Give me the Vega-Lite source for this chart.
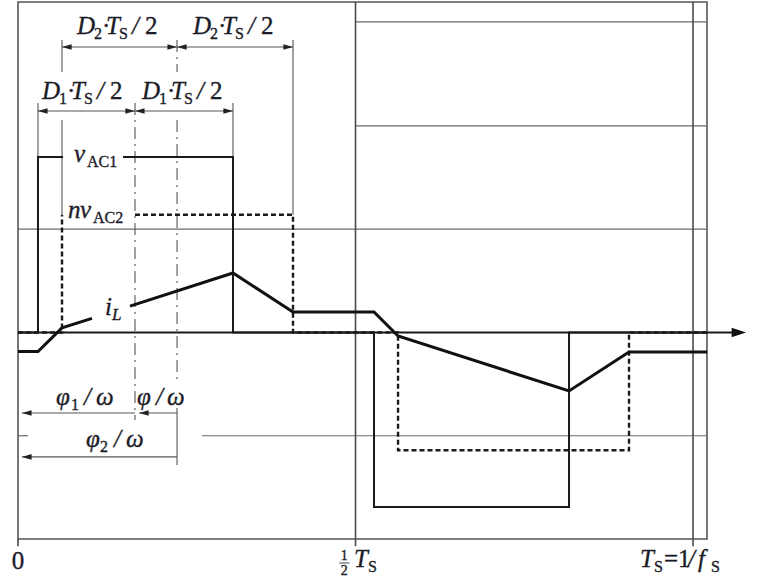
{
  "$schema": "https://vega.github.io/schema/vega-lite/v6.json",
  "autosize": {"type": "none"},
  "padding": {"left": 18, "top": 2, "right": 53, "bottom": 45},
  "width": 689,
  "height": 537,
  "background": "white",
  "config": {
    "view": {"stroke": "#555", "strokeWidth": 1.6},
    "text": {"font": "Liberation Serif", "color": "#1c1c28", "stroke": "#1c1c28", "strokeWidth": 0.35, "baseline": "alphabetic", "align": "left"}
  },
  "datasets": {
    "segs": [
      {"k": "frame", "t": 0.5, "v": -2.07, "t2": 0.5, "v2": 3.2},
      {"k": "frame", "t": 1.0, "v": -2.07, "t2": 1.0, "v2": 3.2},
      {"k": "frame", "t": 0, "v": -2.07, "t2": 0, "v2": -2},
      {"k": "grid", "t": 0.5, "v": 3.007, "t2": 1.0207, "v2": 3.007},
      {"k": "grid", "t": 0.5, "v": 2.0, "t2": 1.0207, "v2": 2.0},
      {"k": "grid", "t": 0, "v": 1.0, "t2": 1.0207, "v2": 1.0},
      {"k": "grid", "t": 0.2726, "v": -1.0, "t2": 1.0207, "v2": -1.0},
      {"k": "grid", "t": 0, "v": -1.0, "t2": 0.0148, "v2": -1.0},
      {"k": "ext", "t": 0.0296, "v": 2.222, "t2": 0.0296, "v2": 1.7},
      {"k": "ext", "t": 0.0652, "v": 2.832, "t2": 0.0652, "v2": 2.522},
      {"k": "ext", "t": 0.0652, "v": 2.058, "t2": 0.0652, "v2": 1.14},
      {"k": "ext", "t": 0.3185, "v": 2.222, "t2": 0.3185, "v2": 1.7},
      {"k": "ext", "t": 0.4074, "v": 2.832, "t2": 0.4074, "v2": 1.14},
      {"k": "ext", "t": 0.2356, "v": -0.731, "t2": 0.2356, "v2": -1.283},
      {"k": "dd", "t": 0.1733, "v": 2.222, "t2": 0.1733, "v2": -0.847},
      {"k": "dd", "t": 0.2356, "v": 2.832, "t2": 0.2356, "v2": 2.522},
      {"k": "dd", "t": 0.2356, "v": 2.058, "t2": 0.2356, "v2": -0.46},
      {"k": "dim", "t": 0.0652, "v": 2.764, "t2": 0.4074, "v2": 2.764},
      {"k": "dim", "t": 0.0296, "v": 2.145, "t2": 0.3185, "v2": 2.145},
      {"k": "dim", "t": 0.0059, "v": -0.78, "t2": 0.1733, "v2": -0.78},
      {"k": "dim", "t": 0.1793, "v": -0.78, "t2": 0.2356, "v2": -0.78},
      {"k": "dim", "t": 0.0059, "v": -1.205, "t2": 0.2356, "v2": -1.205},
      {"k": "bar", "t": 0.476, "v": -2.232, "t2": 0.491, "v2": -2.232},
      {"k": "axis", "t": 0, "v": 0, "t2": 1.0593, "v2": 0}
    ],
    "waves": [
      {"w": "vac1", "seg": "a", "o": 1, "t": 0, "v": 0},
      {"w": "vac1", "seg": "a", "o": 2, "t": 0.0296, "v": 0},
      {"w": "vac1", "seg": "a", "o": 3, "t": 0.0296, "v": 1.7},
      {"w": "vac1", "seg": "a", "o": 4, "t": 0.0667, "v": 1.7},
      {"w": "vac1", "seg": "b", "o": 5, "t": 0.1556, "v": 1.7},
      {"w": "vac1", "seg": "b", "o": 6, "t": 0.3185, "v": 1.7},
      {"w": "vac1", "seg": "b", "o": 7, "t": 0.3185, "v": 0},
      {"w": "vac1", "seg": "b", "o": 8, "t": 0.5274, "v": 0},
      {"w": "vac1", "seg": "b", "o": 9, "t": 0.5274, "v": -1.69},
      {"w": "vac1", "seg": "b", "o": 10, "t": 0.8163, "v": -1.69},
      {"w": "vac1", "seg": "b", "o": 11, "t": 0.8163, "v": 0},
      {"w": "vac1", "seg": "b", "o": 12, "t": 1.0207, "v": 0},
      {"w": "nvac2", "seg": "a", "o": 1, "t": 0, "v": 0},
      {"w": "nvac2", "seg": "a", "o": 2, "t": 0.0652, "v": 0},
      {"w": "nvac2", "seg": "a", "o": 3, "t": 0.0652, "v": 1.14},
      {"w": "nvac2", "seg": "b", "o": 4, "t": 0.1733, "v": 1.14},
      {"w": "nvac2", "seg": "b", "o": 5, "t": 0.4074, "v": 1.14},
      {"w": "nvac2", "seg": "b", "o": 6, "t": 0.4074, "v": 0},
      {"w": "nvac2", "seg": "b", "o": 7, "t": 0.563, "v": 0},
      {"w": "nvac2", "seg": "b", "o": 8, "t": 0.563, "v": -1.14},
      {"w": "nvac2", "seg": "b", "o": 9, "t": 0.9052, "v": -1.14},
      {"w": "nvac2", "seg": "b", "o": 10, "t": 0.9052, "v": 0},
      {"w": "nvac2", "seg": "b", "o": 11, "t": 1.0207, "v": 0},
      {"w": "il", "seg": "a", "o": 1, "t": 0, "v": -0.185},
      {"w": "il", "seg": "a", "o": 2, "t": 0.0296, "v": -0.185},
      {"w": "il", "seg": "a", "o": 3, "t": 0.0652, "v": 0.044},
      {"w": "il", "seg": "a", "o": 4, "t": 0.1096, "v": 0.137},
      {"w": "il", "seg": "b", "o": 5, "t": 0.1659, "v": 0.255},
      {"w": "il", "seg": "b", "o": 6, "t": 0.3185, "v": 0.576},
      {"w": "il", "seg": "b", "o": 7, "t": 0.4074, "v": 0.198},
      {"w": "il", "seg": "b", "o": 8, "t": 0.5274, "v": 0.198},
      {"w": "il", "seg": "b", "o": 9, "t": 0.563, "v": -0.034},
      {"w": "il", "seg": "b", "o": 10, "t": 0.8163, "v": -0.566},
      {"w": "il", "seg": "b", "o": 11, "t": 0.9052, "v": -0.189},
      {"w": "il", "seg": "b", "o": 12, "t": 1.0207, "v": -0.189}
    ],
    "heads": [
      {"dir": "L", "t": 0.0652, "v": 2.764},
      {"dir": "R", "t": 0.2356, "v": 2.764},
      {"dir": "L", "t": 0.2356, "v": 2.764},
      {"dir": "R", "t": 0.4074, "v": 2.764},
      {"dir": "L", "t": 0.0296, "v": 2.145},
      {"dir": "R", "t": 0.1733, "v": 2.145},
      {"dir": "L", "t": 0.1733, "v": 2.145},
      {"dir": "R", "t": 0.3185, "v": 2.145},
      {"dir": "L", "t": 0.0059, "v": -0.78},
      {"dir": "L", "t": 0.1793, "v": -0.78},
      {"dir": "L", "t": 0.0059, "v": -1.205},
      {"dir": "A", "t": 1.0785, "v": 0}
    ],
    "dims": [
      {"t": 0.0874, "v": 2.89, "d": "2"},
      {"t": 0.2593, "v": 2.89, "d": "2"},
      {"t": 0.0356, "v": 2.261, "d": "1"},
      {"t": 0.1837, "v": 2.261, "d": "1"}
    ],
    "frags": [
      {"k": "it", "s": "v", "t": 0.083, "v": 1.651},
      {"k": "sub", "s": "AC1", "t": 0.1022, "v": 1.651},
      {"k": "it", "s": "n", "t": 0.0741, "v": 1.109},
      {"k": "it", "s": "v", "t": 0.0919, "v": 1.109},
      {"k": "sub", "s": "AC2", "t": 0.1111, "v": 1.109},
      {"k": "it", "s": "i", "t": 0.1289, "v": 0.1695},
      {"k": "subit", "s": "L", "t": 0.1393, "v": 0.1695},
      {"k": "it", "s": "φ", "t": 0.0563, "v": -0.702},
      {"k": "sub", "s": "1", "t": 0.0785, "v": -0.702},
      {"k": "it", "s": "/", "t": 0.0978, "v": -0.702},
      {"k": "it", "s": "ω", "t": 0.1156, "v": -0.702},
      {"k": "it", "s": "φ", "t": 0.1763, "v": -0.702},
      {"k": "it", "s": "/", "t": 0.2044, "v": -0.702},
      {"k": "it", "s": "ω", "t": 0.2207, "v": -0.702},
      {"k": "it", "s": "φ", "t": 0.1007, "v": -1.109},
      {"k": "sub", "s": "2", "t": 0.1215, "v": -1.109},
      {"k": "it", "s": "/", "t": 0.1422, "v": -1.109},
      {"k": "it", "s": "ω", "t": 0.16, "v": -1.109},
      {"k": "rmc", "s": "0", "t": 0, "v": -2.29},
      {"k": "small", "s": "1", "t": 0.4833, "v": -2.208},
      {"k": "small", "s": "2", "t": 0.4833, "v": -2.35},
      {"k": "it", "s": "T", "t": 0.4978, "v": -2.271},
      {"k": "sub", "s": "S", "t": 0.5185, "v": -2.271},
      {"k": "it", "s": "T", "t": 0.9215, "v": -2.271},
      {"k": "sub", "s": "S", "t": 0.9422, "v": -2.271},
      {"k": "rm", "s": "=", "t": 0.957, "v": -2.271},
      {"k": "rm", "s": "1", "t": 0.9778, "v": -2.271},
      {"k": "it", "s": "/", "t": 0.9926, "v": -2.271},
      {"k": "it", "s": "f", "t": 1.0074, "v": -2.271},
      {"k": "sub", "s": "S", "t": 1.0267, "v": -2.271}
    ]
  },
  "encoding": {
    "x": {"field": "t", "type": "quantitative", "scale": {"domain": [0, 1.0207], "nice": false, "zero": false}, "axis": null},
    "y": {"field": "v", "type": "quantitative", "scale": {"domain": [-2, 3.2], "nice": false, "zero": false}, "axis": null}
  },
  "layer": [
    {
      "data": {"name": "segs"},
      "transform": [{"filter": "datum.k === 'grid'"}],
      "mark": {"type": "rule", "stroke": "#6a6a6a", "strokeWidth": 1.2},
      "encoding": {"x2": {"field": "t2"}, "y2": {"field": "v2"}}
    },
    {
      "data": {"name": "segs"},
      "transform": [{"filter": "datum.k === 'frame'"}],
      "mark": {"type": "rule", "stroke": "#4a4a4a", "strokeWidth": 1.6},
      "encoding": {"x2": {"field": "t2"}, "y2": {"field": "v2"}}
    },
    {
      "data": {"name": "segs"},
      "transform": [{"filter": "datum.k === 'ext' || datum.k === 'dim' || datum.k === 'bar'"}],
      "mark": {"type": "rule", "stroke": "#555", "strokeWidth": 1.1},
      "encoding": {"x2": {"field": "t2"}, "y2": {"field": "v2"}}
    },
    {
      "data": {"name": "segs"},
      "transform": [{"filter": "datum.k === 'dd'"}],
      "mark": {"type": "rule", "stroke": "#555", "strokeWidth": 1.1, "strokeDash": [12, 5, 2, 5]},
      "encoding": {"x2": {"field": "t2"}, "y2": {"field": "v2"}}
    },
    {
      "data": {"name": "segs"},
      "transform": [{"filter": "datum.k === 'axis'"}],
      "mark": {"type": "rule", "stroke": "#1a1a1a", "strokeWidth": 2},
      "encoding": {"x2": {"field": "t2"}, "y2": {"field": "v2"}}
    },
    {
      "data": {"name": "waves"},
      "transform": [{"filter": "datum.w === 'vac1'"}],
      "mark": {"type": "line", "stroke": "#1a1a1a", "strokeWidth": 2, "strokeJoin": "miter", "strokeCap": "butt"},
      "encoding": {"detail": {"field": "seg"}, "order": {"field": "o", "type": "quantitative"}}
    },
    {
      "data": {"name": "waves"},
      "transform": [{"filter": "datum.w === 'nvac2'"}],
      "mark": {"type": "line", "stroke": "#1a1a1a", "strokeWidth": 2.4, "strokeDash": [5, 3], "strokeJoin": "miter", "strokeCap": "butt"},
      "encoding": {"detail": {"field": "seg"}, "order": {"field": "o", "type": "quantitative"}}
    },
    {
      "data": {"name": "waves"},
      "transform": [{"filter": "datum.w === 'il'"}],
      "mark": {"type": "line", "stroke": "#111", "strokeWidth": 3, "strokeJoin": "miter", "strokeCap": "butt"},
      "encoding": {"detail": {"field": "seg"}, "order": {"field": "o", "type": "quantitative"}}
    },
    {
      "data": {"name": "heads"},
      "transform": [{"filter": "datum.dir === 'L'"}],
      "mark": {"type": "point", "filled": true, "color": "#222", "opacity": 1, "size": 64, "shape": "M0,0L2.4,-0.7L2.4,0.7Z"}
    },
    {
      "data": {"name": "heads"},
      "transform": [{"filter": "datum.dir === 'R'"}],
      "mark": {"type": "point", "filled": true, "color": "#222", "opacity": 1, "size": 64, "shape": "M0,0L-2.4,-0.7L-2.4,0.7Z"}
    },
    {
      "data": {"name": "heads"},
      "transform": [{"filter": "datum.dir === 'A'"}],
      "mark": {"type": "point", "filled": true, "color": "#111", "opacity": 1, "size": 64, "shape": "M0,0L-3.6,-1.2L-3.6,1.2Z"}
    },
    {
      "data": {"name": "dims"},
      "layer": [
        {"mark": {"type": "text", "text": "D", "fontSize": 25, "fontStyle": "italic"}},
        {"mark": {"type": "text", "fontSize": 16, "dx": 17, "dy": 5}, "encoding": {"text": {"field": "d"}}},
        {"mark": {"type": "text", "text": "·", "fontSize": 25, "dx": 25}},
        {"mark": {"type": "text", "text": "T", "fontSize": 25, "fontStyle": "italic", "dx": 29}},
        {"mark": {"type": "text", "text": "S", "fontSize": 16, "dx": 42, "dy": 5}},
        {"mark": {"type": "text", "text": "/", "fontSize": 25, "fontStyle": "italic", "dx": 55}},
        {"mark": {"type": "text", "text": "2", "fontSize": 25, "dx": 68}}
      ]
    },
    {
      "data": {"name": "frags"},
      "transform": [{"filter": "datum.k === 'it'"}],
      "mark": {"type": "text", "fontSize": 25, "fontStyle": "italic"},
      "encoding": {"text": {"field": "s"}}
    },
    {
      "data": {"name": "frags"},
      "transform": [{"filter": "datum.k === 'rm'"}],
      "mark": {"type": "text", "fontSize": 25},
      "encoding": {"text": {"field": "s"}}
    },
    {
      "data": {"name": "frags"},
      "transform": [{"filter": "datum.k === 'rmc'"}],
      "mark": {"type": "text", "align": "center", "fontSize": 25},
      "encoding": {"text": {"field": "s"}}
    },
    {
      "data": {"name": "frags"},
      "transform": [{"filter": "datum.k === 'sub'"}],
      "mark": {"type": "text", "fontSize": 16, "dy": 5},
      "encoding": {"text": {"field": "s"}}
    },
    {
      "data": {"name": "frags"},
      "transform": [{"filter": "datum.k === 'subit'"}],
      "mark": {"type": "text", "fontSize": 17, "fontStyle": "italic", "dy": 5},
      "encoding": {"text": {"field": "s"}}
    },
    {
      "data": {"name": "frags"},
      "transform": [{"filter": "datum.k === 'small'"}],
      "mark": {"type": "text", "align": "center", "fontSize": 14},
      "encoding": {"text": {"field": "s"}}
    }
  ]
}
